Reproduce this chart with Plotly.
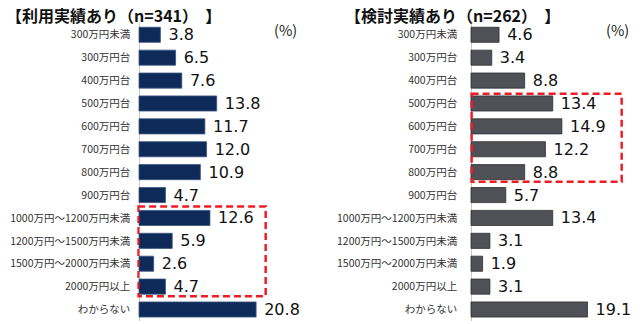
import plotly.graph_objects as go

categories = ["300万円未満", "300万円台", "400万円台", "500万円台", "600万円台", "700万円台",
              "800万円台", "900万円台", "1000万円～1200万円未満", "1200万円～1500万円未満",
              "1500万円～2000万円未満", "2000万円以上", "わからない"]
usage_values = [3.8, 6.5, 7.6, 13.8, 11.7, 12.0, 10.9, 4.7, 12.6, 5.9, 2.6, 4.7, 20.8]
consider_values = [4.6, 3.4, 8.8, 13.4, 14.9, 12.2, 8.8, 5.7, 13.4, 3.1, 1.9, 3.1, 19.1]
title_left = "【利用実績あり（n=341）  】"
title_right = "【検討実績あり（n=262）  】"
unit_label = "(%)"
highlight_left = (8, 11)   # category index range
highlight_right = (3, 6)

W, H = 640, 324
NAVY = "#0e2a58"
GREY = "#4f5156"
RED = "#ee1c25"
CJK = "Noto Sans CJK JP"
NUM = "DejaVu Sans"

fig = go.Figure()
fig.add_trace(go.Bar(
    y=categories, x=usage_values, orientation="h",
    marker=dict(color=NAVY, line=dict(color="#3a5583", width=0.8)),
    texttemplate=" %{x:.1f}", textposition="outside", constraintext="none",
    textfont=dict(family=NUM, size=16, color="#111111"),
    cliponaxis=False, xaxis="x", yaxis="y", hoverinfo="skip",
))
fig.add_trace(go.Bar(
    y=categories, x=consider_values, orientation="h",
    marker=dict(color=GREY, line=dict(color="#2e2f33", width=0.8)),
    texttemplate=" %{x:.1f}", textposition="outside", constraintext="none",
    textfont=dict(family=NUM, size=16, color="#111111"),
    cliponaxis=False, xaxis="x2", yaxis="y2", hoverinfo="skip",
))

# pixel geometry
left_scale, left_zero = 5.63, 139
right_scale, right_zero = 6.1, 471
lx0, lx1 = -0.3, 23.5
rx0, rx1 = -0.3, 25.5
ytop, ybot = 23.35, 320.95

def px_dom(zero, scale, a, b):
    return [(zero + a * scale) / W, (zero + b * scale) / W]

ydom = [1 - ybot / H, 1 - ytop / H]
axis_common = dict(showgrid=False, showticklabels=False, zeroline=True,
                   zerolinecolor="#c8c8c8", zerolinewidth=1, fixedrange=True)
ycommon = dict(type="category", autorange="reversed", showgrid=False, showline=False,
               zeroline=False, ticks="", tickfont=dict(family=CJK, size=10.5, color="#333333"),
               domain=ydom)

fig.update_layout(
    width=W, height=H, margin=dict(l=0, r=0, t=0, b=0),
    paper_bgcolor="white", plot_bgcolor="white", showlegend=False,
    bargap=0.34,
    xaxis=dict(range=[lx0, lx1], domain=px_dom(left_zero, left_scale, lx0, lx1), anchor="y", **axis_common),
    yaxis=dict(anchor="x", ticklabelstandoff=6, **ycommon),
    xaxis2=dict(range=[rx0, rx1], domain=px_dom(right_zero, right_scale, rx0, rx1), anchor="y2", **axis_common),
    yaxis2=dict(anchor="x2", ticklabelstandoff=11, **ycommon),
)

# red dashed highlight boxes
fig.add_shape(type="rect", xref="x", yref="y", x0=-0.15, x1=22.5,
              y0=highlight_left[0] - 0.5, y1=highlight_left[1] + 0.42,
              line=dict(color=RED, width=2.5, dash="7px,4px"), fillcolor="rgba(0,0,0,0)")
fig.add_shape(type="rect", xref="x2", yref="y2", x0=0.1, x1=24.7,
              y0=highlight_right[0] - 0.42, y1=highlight_right[1] + 0.42,
              line=dict(color=RED, width=2.5, dash="7px,4px"), fillcolor="rgba(0,0,0,0)")

# titles and unit labels
for x, txt in [(4, title_left), (343, title_right)]:
    fig.add_annotation(x=x / W, y=1 - 15 / H, xref="paper", yref="paper", text=f"<b>{txt}</b>",
                       showarrow=False, xanchor="left", yanchor="middle",
                       font=dict(family=CJK, size=16, color="#111111"))
for x in [285, 617]:
    fig.add_annotation(x=x / W, y=1 - 30 / H, xref="paper", yref="paper", text=unit_label,
                       showarrow=False, xanchor="center", yanchor="middle",
                       font=dict(family=CJK, size=14.5, color="#222222"))

fig.write_html("out.html")
